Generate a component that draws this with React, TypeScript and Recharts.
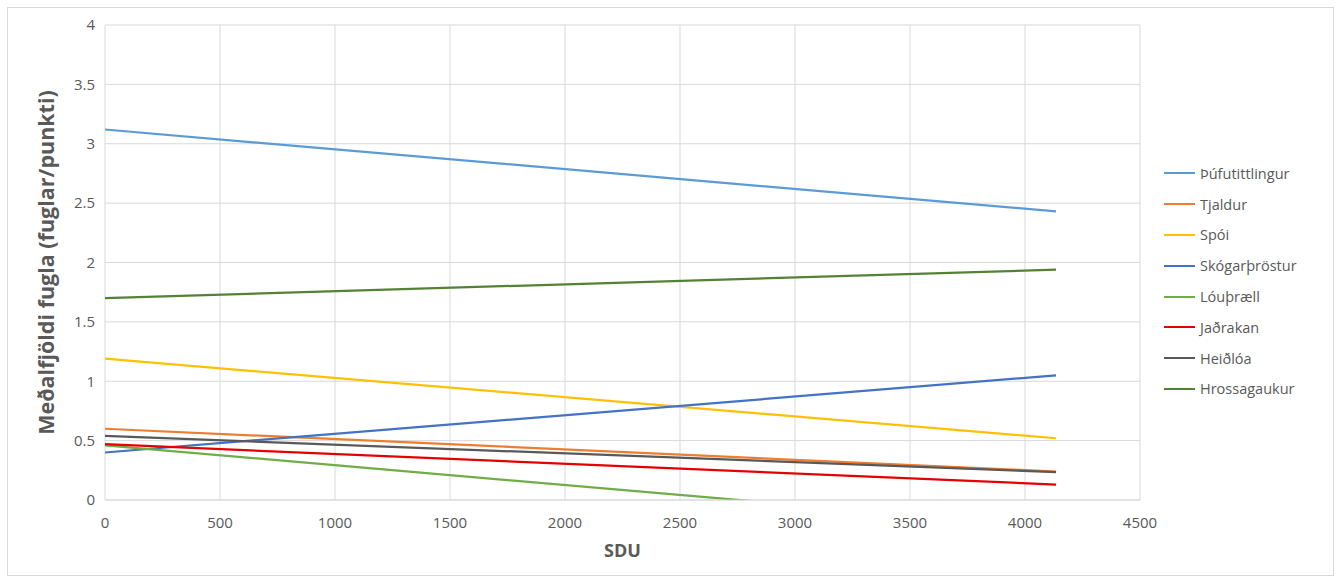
import React from "react";
import {
  LineChart,
  Line,
  XAxis,
  YAxis,
  CartesianGrid,
  Legend,
} from "recharts";

// SDU at the two ends of each trend line
const sdu = [0, 4135];

// mean birds per point (trend line end values)
const thufutittlingur = [3.12, 2.43];
const tjaldur = [0.6, 0.24];
const spoi = [1.19, 0.52];
const skogarthrostur = [0.4, 1.05];
const louthraell = [0.46, -0.23];
const jadrakan = [0.47, 0.13];
const heidloa = [0.54, 0.235];
const hrossagaukur = [1.7, 1.94];

const xTicks = [0, 500, 1000, 1500, 2000, 2500, 3000, 3500, 4000, 4500];
const yTicks = [0, 0.5, 1, 1.5, 2, 2.5, 3, 3.5, 4];

const series = [
  { key: "thufutittlingur", name: "Þúfutittlingur", values: thufutittlingur, color: "#5B9BD5" },
  { key: "tjaldur", name: "Tjaldur", values: tjaldur, color: "#ED7D31" },
  { key: "spoi", name: "Spói", values: spoi, color: "#FFC000" },
  { key: "skogarthrostur", name: "Skógarþröstur", values: skogarthrostur, color: "#4472C4" },
  { key: "louthraell", name: "Lóuþræll", values: louthraell, color: "#70AD47" },
  { key: "jadrakan", name: "Jaðrakan", values: jadrakan, color: "#E50000" },
  { key: "heidloa", name: "Heiðlóa", values: heidloa, color: "#595959" },
  { key: "hrossagaukur", name: "Hrossagaukur", values: hrossagaukur, color: "#548235" },
];

const data = sdu.map((x, i) => {
  const row: Record<string, number> = { sdu: x };
  series.forEach((s) => {
    row[s.key] = s.values[i];
  });
  return row;
});

const FONT = "'Open Sans', 'Liberation Sans', sans-serif";
const TEXT = "#595959";
const GRID = "#d9d9d9";

const W = 1325;
const H = 567;

const YTitle = (props: any) => {
  const vb = props.viewBox || { x: 0, y: 17, width: 97, height: 475 };
  const cx = vb.x + 37;
  const cy = vb.y + vb.height / 2;
  return (
    <text
      x={cx}
      y={cy}
      transform={`rotate(-90, ${cx}, ${cy})`}
      textAnchor="middle"
      dominantBaseline="central"
      fill={TEXT}
      fontFamily={FONT}
      fontSize={21.5}
      fontWeight="bold"
    >
      Meðalfjöldi fugla (fuglar/punkti)
    </text>
  );
};

const XTitle = (props: any) => {
  const vb = props.viewBox || { x: 97, y: 492, width: 1035, height: 75 };
  return (
    <text
      x={vb.x + vb.width / 2}
      y={vb.y + 50}
      textAnchor="middle"
      dominantBaseline="central"
      fill={TEXT}
      fontFamily={FONT}
      fontSize={18}
      fontWeight="bold"
    >
      SDU
    </text>
  );
};

// keep legend entries in series order rather than alphabetical
const order = (name: string) => series.findIndex((s) => s.name === name);

const LegendList = (props: any) => {
  const items = [...(props.payload || [])].sort(
    (a: any, b: any) => order(a.value) - order(b.value)
  );
  return (
    <div>
      {items.map((it: any) => (
        <div
          key={it.value}
          style={{ display: "flex", alignItems: "center", height: 30.8 }}
        >
          <div style={{ width: 31, height: 2, background: it.color, marginRight: 5 }} />
          <span style={{ color: TEXT, fontFamily: FONT, fontSize: 14.5 }}>{it.value}</span>
        </div>
      ))}
    </div>
  );
};

export default function App() {
  return (
    <div
      style={{
        position: "absolute",
        left: 7,
        top: 7,
        width: W + 2,
        height: H + 2,
        border: `1px solid ${GRID}`,
        boxSizing: "border-box",
        background: "#fff",
      }}
    >
      <LineChart
        width={W}
        height={H}
        data={data}
        margin={{ top: 17, right: 193, left: 0, bottom: 0 }}
      >
        <CartesianGrid stroke={GRID} strokeWidth={1} />
        <XAxis
          dataKey="sdu"
          type="number"
          domain={[0, 4500]}
          ticks={xTicks}
          height={75}
          axisLine={{ stroke: GRID }}
          tickLine={false}
          tickMargin={11}
          tick={{ fill: TEXT, fontSize: 15, fontFamily: FONT }}
          label={XTitle}
        />
        <YAxis
          type="number"
          domain={[0, 4]}
          ticks={yTicks}
          allowDataOverflow
          width={97}
          axisLine={false}
          tickLine={false}
          tickMargin={4}
          tick={{ fill: TEXT, fontSize: 15, fontFamily: FONT }}
          label={YTitle}
        />
        <Legend
          layout="vertical"
          align="center"
          verticalAlign="middle"
          wrapperStyle={{ left: 1156, top: 150, width: 170 }}
          content={LegendList}
        />
        {series.map((s) => (
          <Line
            key={s.key}
            dataKey={s.key}
            name={s.name}
            type="linear"
            stroke={s.color}
            strokeWidth={2.25}
            dot={false}
            activeDot={false}
            isAnimationActive={false}
          />
        ))}
      </LineChart>
    </div>
  );
}
